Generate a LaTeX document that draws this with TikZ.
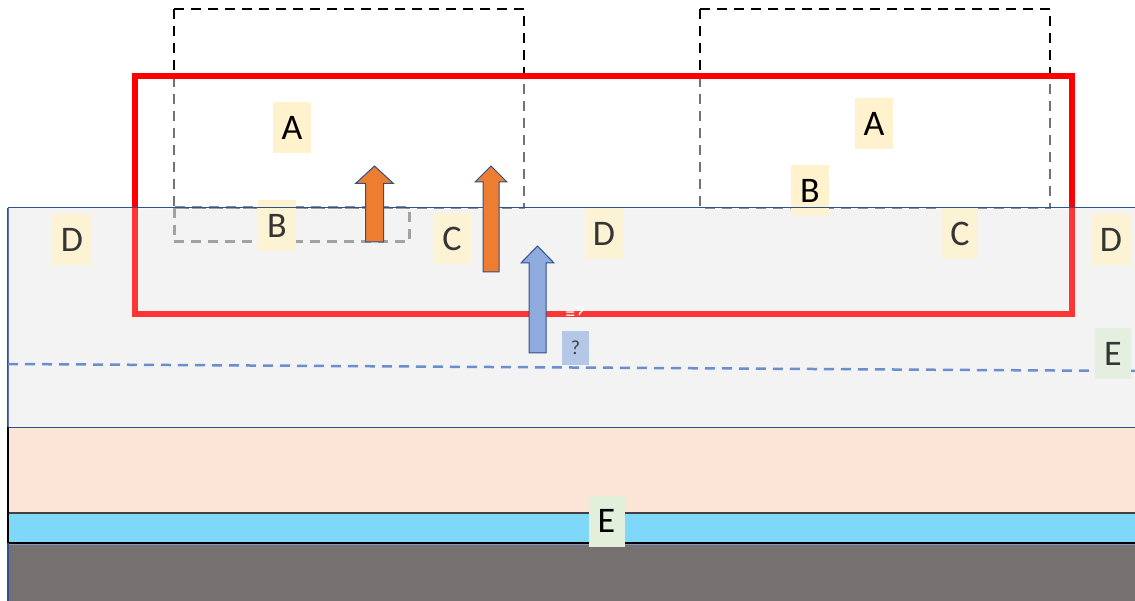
\documentclass[tikz,border=0pt]{standalone}
\usepackage{fontspec}
\setmainfont{Carlito}
\usepackage{tikz}
\usetikzlibrary{positioning}

\definecolor{rockgray}{HTML}{F3F3F3}
\definecolor{peach}{HTML}{FBE5D6}
\definecolor{aqua}{HTML}{7FD7F9}
\definecolor{bedrock}{HTML}{767171}
\definecolor{edgeblue}{HTML}{2F528F}
\definecolor{tagyellow}{HTML}{FFF2CC}
\definecolor{taggreen}{HTML}{E2EFDA}
\definecolor{tagblue}{HTML}{B4C7E7}
\definecolor{flowblue}{HTML}{8FAADC}
\definecolor{flowline}{HTML}{4472C4}
\definecolor{orangeflow}{HTML}{ED7D31}

\begin{document}
\begin{tikzpicture}[x=1pt,y=-1pt,
  tag/.style={fill=tagyellow,minimum width=38pt,minimum height=51pt,inner sep=0pt,
    font=\fontsize{36}{40}\selectfont},
  greentag/.style={tag,fill=taggreen,minimum width=36pt},
  frame/.style={dash pattern=on 10pt off 7pt,line width=2.5pt},
  arrowbody/.style={draw=edgeblue,line width=1pt,line join=miter}]

  \useasboundingbox (0,0) rectangle (1135,601);

  % ground layers
  \fill[rockgray] (8,208) rectangle (1140,427);
  \fill[peach] (8,427) rectangle (1140,513);
  \fill[aqua] (8,513) rectangle (1140,543);
  \fill[bedrock] (8,543) rectangle (1140,605);
  \draw[edgeblue,line width=1pt] (8,427) -- (1140,427);
  \draw[black!75,line width=2.5pt] (8,513) -- (1140,513);
  \draw[black,line width=1.5pt] (8,543) -- (1140,543);
  \draw[edgeblue!60,line width=1pt] (8,544.5) -- (1140,544.5);
  \draw[black,line width=1.5pt] (8,427) -- (8,543);
  \draw[edgeblue,line width=1.5pt] (8,208) -- (8,427) (8,543) -- (8,605);

  % dashed frames
  \draw[frame] (174,9) rectangle (524,208);
  \draw[frame] (700,9) rectangle (1050,208);
  \fill[white,opacity=.45] (137,78) rectangle (1070,210);
  \draw[frame,black!45,line width=3pt] (174,208) rectangle (409,242);

  % water table
  \draw[flowline,line width=2.5pt,dash pattern=on 10pt off 7pt] (8,364) -- (1135,371);

  % labels
  \node[tag] (A1) at (292,128) {A};
  \node[tag] (A2) at (874,124) {A};
  \node[tag] (B1) at (277,226) {B};
  \node[tag] (B2) at (810,191) {B};
  \node[tag,minimum width=37pt] (C1) at (452,239) {C};
  \node[tag,minimum width=36pt] (C2) at (960,234) {C};
  \node[tag,minimum width=40pt] (D1) at (72,240) {D};
  \node[tag,minimum width=39pt] (D2) at (604,234) {D};
  \node[tag,minimum width=40pt] (D3) at (1111,240) {D};
  \node[greentag] (E1) at (1113,354) {E};

  % study area
  \draw[red,line width=5.5pt] (135,76) rectangle (1072,314);

  \fill[rockgray,opacity=.22] (8,208) rectangle (1140,427);
  \draw[edgeblue,line width=1pt] (8,208) -- (1140,208);

  % fluxes
  \draw[arrowbody,fill=orangeflow] (365.5,242) -- (365.5,183.5) -- (355.5,183.5) -- (374.5,166)
    -- (393.5,183.5) -- (383.5,183.5) -- (383.5,242) -- cycle;
  \draw[arrowbody,fill=orangeflow] (483,272) -- (483,182) -- (475,182) -- (491,166)
    -- (507,182) -- (499,182) -- (499,272) -- cycle;
  \draw[arrowbody,fill=flowblue] (529,353) -- (529,263) -- (521,263) -- (537.5,246)
    -- (554,263) -- (546,263) -- (546,353) -- cycle;

  \node[white,inner sep=0pt,font=\fontsize{20}{22}\selectfont] (Q0) at (575,314) {=?};
  \node[fill=tagblue,minimum width=27pt,minimum height=34pt,inner sep=0pt,text=black!75,
    font=\fontsize{20}{22}\selectfont] (Q1) at (575.5,348) {?};
  \node[greentag] (E2) at (606.5,521) {E};
\end{tikzpicture}
\end{document}
